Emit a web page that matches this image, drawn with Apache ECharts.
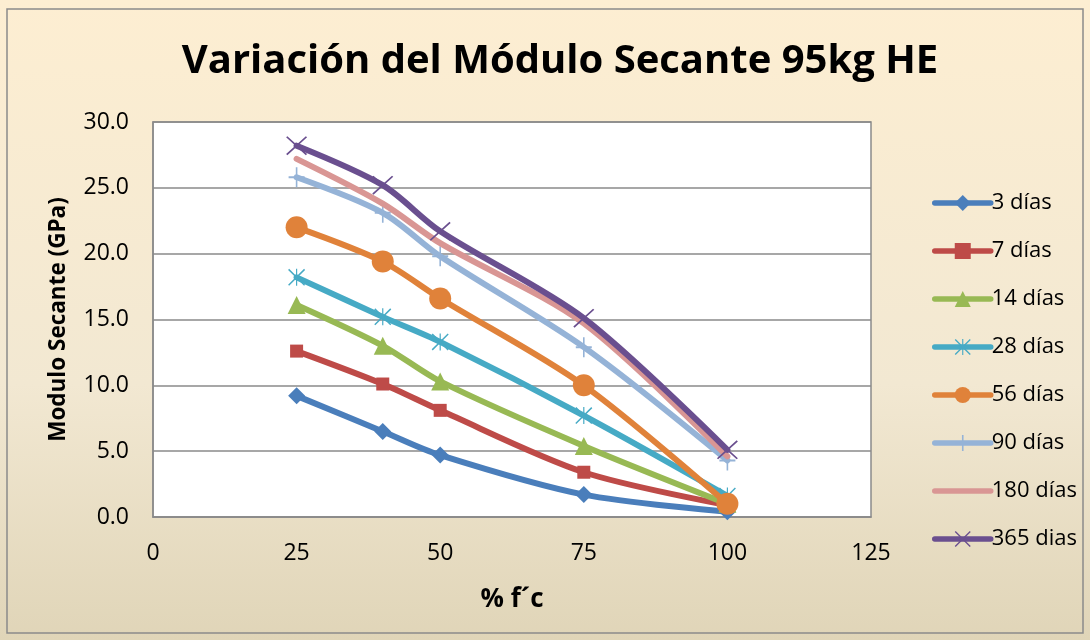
<!DOCTYPE html>
<html><head><meta charset="utf-8">
<script src="https://cdn.jsdelivr.net/npm/echarts@6/dist/echarts.min.js"></script>
<style>html,body{margin:0;padding:0;background:#fff}#c{width:1090px;height:640px}</style>
</head><body><div id="c"></div>
<script>
const xValues = [25, 40, 50, 75, 100];
const seriesNames = ['3 días','7 días','14 días','28 días','56 días','90 días','180 días','365 dias'];
const d3 = [9.2, 6.5, 4.7, 1.7, 0.4];
const d7 = [12.6, 10.1, 8.1, 3.4, 0.9];
const d14 = [16.1, 13.0, 10.3, 5.4, 1.0];
const d28 = [18.2, 15.2, 13.3, 7.7, 1.6];
const d56 = [22.0, 19.4, 16.6, 10.0, 1.0];
const d90 = [25.8, 23.1, 19.8, 12.9, 4.3];
const d180 = [27.2, 23.8, 20.8, 14.7, 4.6];
const d365 = [28.2, 25.2, 21.7, 15.1, 5.1];
const allData = [d3, d7, d14, d28, d56, d90, d180, d365];
const colors = ['#4A7EBB','#BE4B48','#98B954','#46AAC5','#E0823A','#95B3D7','#D99694','#6A4F8F'];
const PLUS = 'path://M9,0H11V20H9ZM0,9H20V11H0Z';
const XS = 'path://M0,1.2L1.2,0L20,18.8L18.8,20ZM18.8,0L20,1.2L1.2,20L0,18.8Z';
const AST = 'path://M0,1.2L1.2,0L20,18.8L18.8,20ZM18.8,0L20,1.2L1.2,20L0,18.8ZM9.3,0H10.7V20H9.3Z';
const symbols = ['diamond','rect','triangle',AST,'circle',PLUS,'circle',XS];
const symSizes = [17,13,18,17,22,[16,20],0,[21,19]];
const FONT = 'Open Sans';
const chart = echarts.init(document.getElementById('c'));
chart.setOption({
  animation:false,
  backgroundColor: new echarts.graphic.LinearGradient(0,0,0,1,[{offset:0,color:'#FDEED2'},{offset:0.6,color:'#F2E8D2'},{offset:1,color:'#E0D5B8'}]),
  graphic:[{type:'rect',shape:{x:7,y:9,width:1076,height:624},style:{fill:'none',stroke:'#8A8A8A',lineWidth:1.5},silent:true}],
  title:{text:'Variación del Módulo Secante 95kg HE',left:555,textAlign:'center',top:37,
    textStyle:{fontFamily:FONT,fontWeight:'bold',fontSize:40,color:'#000'}},
  legend:{orient:'vertical',left:927,top:187,itemWidth:56,itemHeight:20,itemGap:26,
    lineStyle:{width:5.5},
    textStyle:{fontFamily:FONT,fontSize:22,lineHeight:22,color:'#000',padding:[0,0,0,-4]},
    data:seriesNames},
  grid:{left:153,top:122,width:718,height:395,show:true,backgroundColor:'#fff',borderColor:'#8A8A8A',borderWidth:1.5},
  xAxis:{type:'value',min:0,max:125,interval:25,
    name:'% f´c',nameLocation:'middle',nameGap:70,
    nameTextStyle:{fontFamily:FONT,fontWeight:'bold',fontSize:26,color:'#000'},
    axisLine:{show:true,onZero:false,lineStyle:{color:'#8A8A8A',width:1.5}},
    axisTick:{show:false},splitLine:{show:false},
    axisLabel:{fontFamily:FONT,fontSize:23,color:'#000',margin:25}},
  yAxis:{type:'value',min:0,max:30,interval:5,
    name:'Modulo Secante (GPa)',nameLocation:'middle',nameGap:83,
    nameTextStyle:{fontFamily:FONT,fontWeight:'bold',fontSize:22.5,color:'#000'},
    axisLine:{show:true,lineStyle:{color:'#8A8A8A',width:1.5}},
    axisTick:{show:false},
    splitLine:{show:true,lineStyle:{color:'#8A8A8A',width:1.5}},
    axisLabel:{fontFamily:FONT,fontSize:23,color:'#000',margin:24,formatter:v=>v.toFixed(1)}},
  series: seriesNames.map((n,i)=>({
    name:n,type:'line',smooth:0.3,
    data: xValues.map((x,j)=>[x, allData[i][j]]),
    symbol:symbols[i],symbolSize:symSizes[i],showSymbol:i!==6,
    color:colors[i],
    lineStyle:{width:6,color:colors[i],cap:'round'},
    itemStyle:{color: i===6 ? 'rgba(0,0,0,0)' : colors[i]},
    z:i+2
  }))
});
</script></body></html>
